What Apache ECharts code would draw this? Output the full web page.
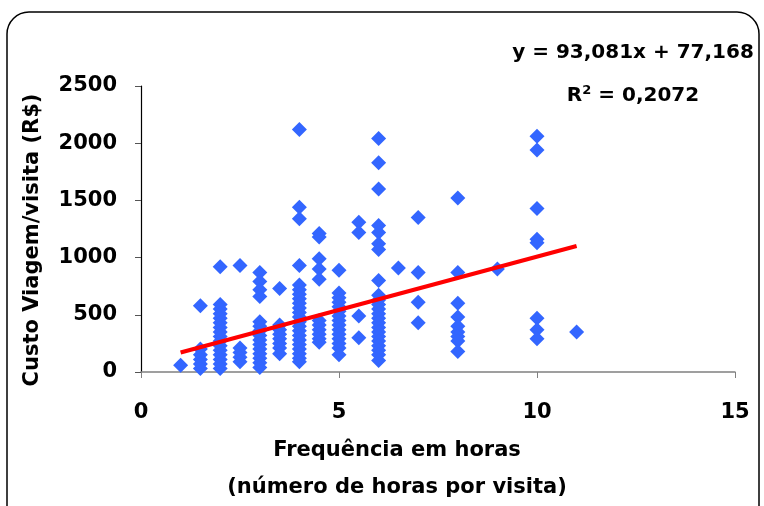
<!DOCTYPE html>
<html>
<head>
<meta charset="utf-8">
<script src="https://cdn.jsdelivr.net/npm/echarts@6/dist/echarts.min.js"></script>
<style>
  html, body { margin: 0; padding: 0; background: #fff; }
  #chart { width: 764px; height: 506px; }
</style>
</head>
<body>
<div id="chart"></div>
<script>
// horas por visita (x) e custo por visita (y)
var horas = [1, 1.5, 2, 2.5, 3, 3.5, 4, 4.5, 5, 5.5, 6, 6.5, 7, 8, 9, 10, 11];
var custos = [
  [60],
  [580, 200, 150, 110, 70, 30],
  [920, 590, 550, 510, 470, 430, 390, 350, 310, 270, 230, 190, 150, 110, 70, 30],
  [930, 210, 170, 130, 90],
  [870, 790, 720, 660, 440, 400, 360, 320, 280, 240, 200, 160, 120, 80, 40],
  [730, 410, 370, 330, 290, 250, 210, 160],
  [2120, 1440, 1340, 930, 760, 720, 680, 640, 600, 560, 520, 480, 440, 400, 360, 320, 280, 240, 200, 160, 120, 90],
  [1210, 1180, 990, 900, 810, 450, 410, 370, 330, 290, 260],
  [890, 690, 650, 610, 570, 530, 490, 450, 410, 370, 330, 290, 250, 210, 150],
  [1310, 1220, 490, 300],
  [2040, 1830, 1600, 1280, 1220, 1120, 1070, 800, 670, 630, 590, 550, 510, 470, 430, 390, 350, 310, 270, 230, 190, 150, 100],
  [910],
  [1350, 870, 610, 430],
  [1520, 870, 600, 480, 400, 350, 310, 270, 180],
  [900],
  [2060, 1940, 1430, 1160, 1130, 470, 370, 290],
  [350]
];
var xTicks = [0, 5, 10, 15];
var yTicks = [0, 500, 1000, 1500, 2000, 2500];
var inclinacao = 93.081;
var intercepto = 77.168;
var tendX = [1, 11];

var pontos = [];
for (var i = 0; i < horas.length; i++) {
  for (var j = 0; j < custos[i].length; j++) {
    pontos.push([horas[i], custos[i][j]]);
  }
}
var tendencia = tendX.map(function (x) { return [x, inclinacao * x + intercepto]; });

var fonte = 'DejaVu Sans';
var rotulo = { color: '#000', fontFamily: fonte, fontWeight: 'bold', fontSize: 21 };

var myChart = echarts.init(document.getElementById('chart'));
var option = {
  animation: false,
  grid: { left: 141, right: 29, top: 86, bottom: 134 },
  xAxis: {
    type: 'value',
    min: xTicks[0],
    max: xTicks[xTicks.length - 1],
    interval: 5,
    splitLine: { show: false },
    axisLine: { lineStyle: { color: '#808080', width: 1.5 } },
    axisTick: { length: 6, lineStyle: { color: '#808080' } },
    axisLabel: Object.assign({ margin: 30, formatter: function (v) { return String(v); } }, rotulo)
  },
  yAxis: {
    type: 'value',
    min: yTicks[0],
    max: yTicks[yTicks.length - 1],
    interval: 500,
    splitLine: { show: false },
    axisLine: { show: true, lineStyle: { color: '#000', width: 1.2 } },
    axisTick: { show: true, length: 6, lineStyle: { color: '#555' } },
    axisLabel: Object.assign({ margin: 24, formatter: function (v) { return String(v); } }, rotulo)
  },
  series: [
    {
      type: 'scatter',
      data: pontos,
      symbol: 'diamond',
      symbolSize: 15,
      itemStyle: { color: '#3366ff', opacity: 1 }
    },
    {
      type: 'line',
      data: tendencia,
      symbol: 'none',
      lineStyle: { color: '#ff0000', width: 4 },
      z: 3
    }
  ],
  graphic: [
    {
      type: 'rect',
      shape: { x: 7, y: 12, width: 752, height: 530, r: 22 },
      style: { fill: 'none', stroke: '#000', lineWidth: 1.5 },
      silent: true
    },
    {
      type: 'text', x: 633, y: 53,
      style: { text: 'y = 93,081x + 77,168', textAlign: 'center', textVerticalAlign: 'middle',
        fill: '#000', font: 'bold 20px "DejaVu Sans"' }
    },
    {
      type: 'text', x: 633, y: 95,
      style: {
        text: '{a|R}{s|2}{a| = 0,2072}', textAlign: 'center', textVerticalAlign: 'middle',
        rich: {
          a: { fill: '#000', fontFamily: fonte, fontWeight: 'bold', fontSize: 20, verticalAlign: 'bottom' },
          s: { fill: '#000', fontFamily: fonte, fontWeight: 'bold', fontSize: 13, verticalAlign: 'bottom', padding: [0, 0, 9, 0] }
        }
      }
    },
    {
      type: 'text', x: 33, y: 240, rotation: Math.PI / 2,
      style: { text: 'Custo Viagem/visita (R$)', textAlign: 'center', textVerticalAlign: 'middle',
        fill: '#000', font: 'bold 21px "DejaVu Sans"' }
    },
    {
      type: 'text', x: 397, y: 451,
      style: { text: 'Frequência em horas', textAlign: 'center', textVerticalAlign: 'middle',
        fill: '#000', font: 'bold 21px "DejaVu Sans"' }
    },
    {
      type: 'text', x: 397, y: 488,
      style: { text: '(número de horas por visita)', textAlign: 'center', textVerticalAlign: 'middle',
        fill: '#000', font: 'bold 21px "DejaVu Sans"' }
    }
  ]
};
myChart.setOption(option);
</script>
</body>
</html>
